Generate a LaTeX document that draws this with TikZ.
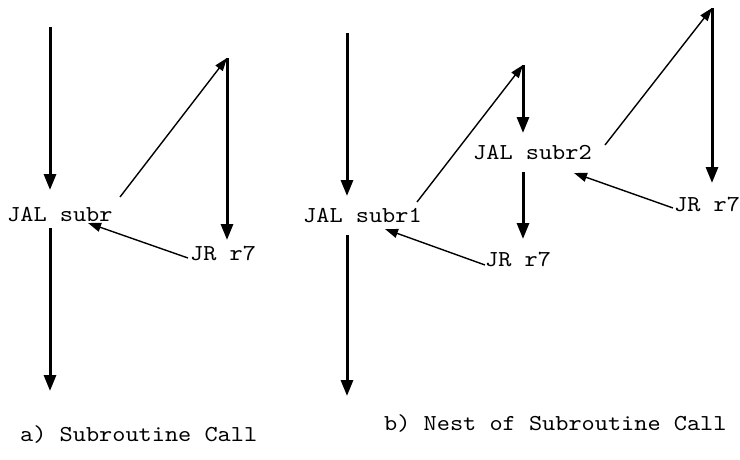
\documentclass[tikz,border=0pt]{standalone}
\usepackage{fontspec}
\setmonofont{lmmono10-regular}[Extension=.otf, FakeStretch=1.1]
\usetikzlibrary{arrows.meta}
\tikzset{
  lbl/.style={anchor=base west, inner sep=0pt, font=\ttfamily\fontsize{22.8}{28}\selectfont},
  flow/.style={line width=3pt, -{Triangle[length=16pt,width=12pt]}},
  jump/.style={line width=1.4pt, -{Triangle[length=13pt,width=9pt]}}
}
\begin{document}
\begin{tikzpicture}[x=1pt, y=-1pt]
\useasboundingbox (0,0) rectangle (740,459);

% ---- a) single call ----
\node[lbl] (jal) at (7,221) {JAL subr};
\node[lbl] (jr) at (190,260) {JR r7};
\node[lbl] (capA) at (20,441) {a) Subroutine Call};
\coordinate (a0) at (50,27);
\coordinate (a1) at (50,190);
\coordinate (a2) at (50,228);
\coordinate (a3) at (50,391);
\coordinate (callA) at (120,197);
\coordinate (subA) at (227,58);
\coordinate (endA) at (227,240);
\coordinate (retA) at (188,258);
\coordinate (backA) at (88,223);
\draw[flow] (a0) -- (a1);
\draw[flow] (a2) -- (a3);
\draw[jump] (callA) -- (subA);
\draw[flow] (subA) -- (endA);
\draw[jump] (retA) -- (backA);

% ---- b) nested calls ----
\node[lbl] (jal1) at (303,222) {JAL subr1};
\node[lbl] (jal2) at (473,159) {JAL subr2};
\node[lbl] (jr1) at (485,266) {JR r7};
\node[lbl] (jr2) at (674,211) {JR r7};
\node[lbl] (capB) at (384,430) {b) Nest of Subroutine Call};
\coordinate (b0) at (347,33);
\coordinate (b1) at (347,196);
\coordinate (b2) at (347,235);
\coordinate (b3) at (347,396);
\coordinate (call1) at (417,202);
\coordinate (sub1) at (523,65);
\coordinate (s1a) at (523,133);
\coordinate (s1b) at (523,172);
\coordinate (s1c) at (523,239);
\coordinate (ret1) at (485,265);
\coordinate (back1) at (385,229);
\coordinate (call2) at (605,145);
\coordinate (sub2) at (712,8);
\coordinate (end2) at (712,183);
\coordinate (ret2) at (673,208);
\coordinate (back2) at (574,173);
\draw[flow] (b0) -- (b1);
\draw[flow] (b2) -- (b3);
\draw[jump] (call1) -- (sub1);
\draw[flow] (sub1) -- (s1a);
\draw[flow] (s1b) -- (s1c);
\draw[jump] (ret1) -- (back1);
\draw[jump] (call2) -- (sub2);
\draw[flow] (sub2) -- (end2);
\draw[jump] (ret2) -- (back2);
\end{tikzpicture}
\end{document}
